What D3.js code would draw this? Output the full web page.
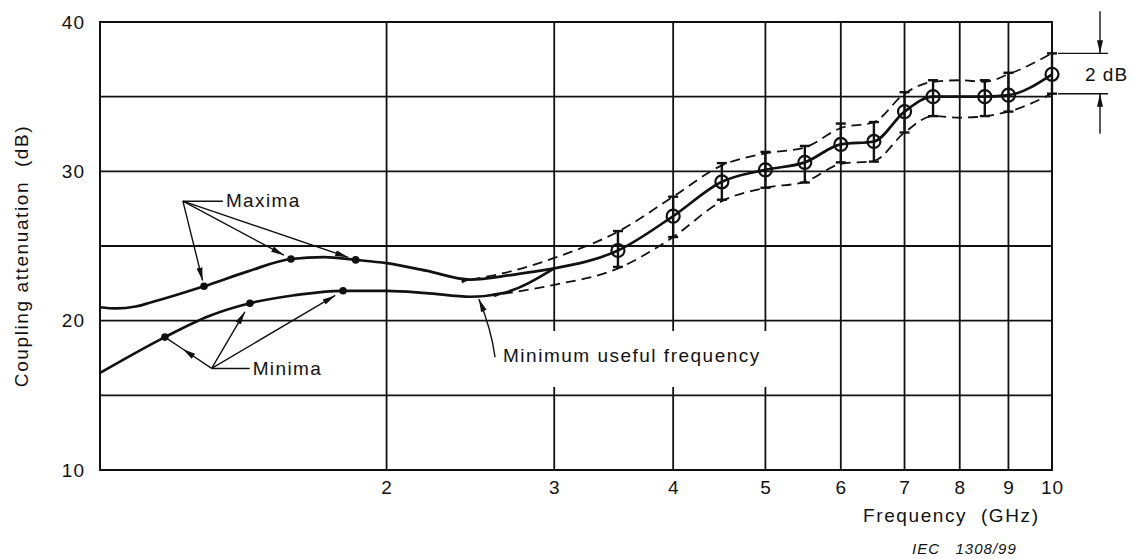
<html>
<head>
  <meta charset="UTF-8">
  <title>Coupling attenuation vs frequency</title>
  <script src="https://d3js.org/d3.v7.min.js"></script>
  <style>
    body { margin: 0; background: #fff; }
    text { font-family: "Liberation Sans", Arial, sans-serif; fill: #111; white-space: pre; }
  </style>
</head>
<body>
  <svg id="chart" width="1134" height="559"></svg>
  <script>
    /* Data (frequency in GHz, attenuation in dB) */
    const maximaCurve = [[1.0, 20.9], [1.04, 20.82], [1.09, 20.95], [1.128, 21.2], [1.2, 21.7], [1.286, 22.3], [1.43, 23.3],
      [1.587, 24.13], [1.72, 24.25], [1.856, 24.07], [2.0, 23.85], [2.2, 23.35], [2.45, 22.75], [2.7, 23.05], [3.0, 23.5]];
    const maximaDots = [[1.286, 22.3], [1.587, 24.13], [1.856, 24.07]];

    const minimaCurve = [[1.0, 16.5], [1.17, 18.9], [1.3, 20.3], [1.437, 21.17], [1.6, 21.7], [1.8, 22.0],
      [2.0, 22.0], [2.2, 21.85], [2.45, 21.6], [2.65, 21.85], [3.0, 23.5]];
    const minimaDots = [[1.17, 18.9], [1.437, 21.17], [1.8, 22.0]];

    const freqs = [3.5, 4, 4.5, 5, 5.5, 6, 6.5, 7, 7.5, 8.5, 9, 10];
    const meanValues = [24.7, 27.0, 29.3, 30.1, 30.6, 31.8, 32.0, 34.0, 35.0, 35.0, 35.1, 36.5];
    const barTop = [26.0, 28.3, 30.55, 31.3, 31.7, 33.2, 33.3, 35.3, 36.1, 36.1, 36.6, 37.9];
    const barBottom = [23.6, 25.6, 28.1, 28.9, 29.25, 30.6, 30.65, 32.6, 33.7, 33.7, 34.0, 35.2];

    const upperBand = [[2.45, 22.75], [2.7, 23.3], [3.0, 24.2], [3.5, 25.96], [4, 28.3], [4.5, 30.4], [5, 31.2],
      [5.5, 31.6], [6, 32.9], [6.5, 33.3], [7, 35.2], [7.5, 36.0], [8, 36.1], [8.5, 36.0], [9, 36.5], [10, 37.9]];
    const lowerBand = [[2.65, 21.8], [3.0, 22.4], [3.5, 23.5], [4, 25.6], [4.5, 28.0], [5, 28.9], [5.5, 29.3],
      [6, 30.5], [6.5, 30.7], [7, 32.6], [7.5, 33.7], [8, 33.6], [8.5, 33.7], [9, 34.0], [10, 35.2]];

    const xTicks = [2, 3, 4, 5, 6, 7, 8, 9, 10];
    const xGrid = [2, 3, 4, 5, 6, 7, 8, 9];
    const yTicks = [10, 20, 30, 40];
    const yGrid = [15, 20, 25, 30, 35];

    // annotation anchors in data units
    const maximaOrigin = [1.222, 28.0];
    const minimaOrigin = [1.31, 16.8];
    const usefulTail = [2.6, 17.55];
    const usefulHead = [2.5, 21.45];

    /* Layout */
    const svg = d3.select("#chart");
    const plotLeft = 100, plotRight = 1052, plotTop = 22, plotBottom = 470;
    const ink = "#111";
    const fontSize = 19;

    const x = d3.scaleLog().domain([1, 10]).range([plotLeft, plotRight]);
    const y = d3.scaleLinear().domain([10, 40]).range([plotBottom, plotTop]);
    const px = d => [x(d[0]), y(d[1])];

    const defs = svg.append("defs");
    defs.append("marker").attr("id", "arrow")
      .attr("markerUnits", "userSpaceOnUse").attr("markerWidth", 14).attr("markerHeight", 8)
      .attr("refX", 13).attr("refY", 4).attr("orient", "auto")
      .append("path").attr("d", "M0,1 L13,4 L0,7 Z").attr("fill", ink);
    defs.append("marker").attr("id", "arrowSmall")
      .attr("markerUnits", "userSpaceOnUse").attr("markerWidth", 10).attr("markerHeight", 6)
      .attr("refX", 0).attr("refY", 3).attr("orient", "auto-start-reverse")
      .append("path").attr("d", "M0,3 L9,0.8 L9,5.2 Z").attr("fill", ink);

    // gridlines
    const grid = svg.append("g").attr("stroke", ink).attr("stroke-width", 1.8);
    xGrid.forEach(f => {
      grid.append("line").attr("x1", x(f)).attr("x2", x(f)).attr("y1", plotTop).attr("y2", plotBottom);
    });
    yGrid.forEach(v => {
      grid.append("line").attr("x1", plotLeft).attr("x2", plotRight).attr("y1", y(v)).attr("y2", y(v));
    });
    svg.append("rect").attr("x", plotLeft).attr("y", plotTop)
      .attr("width", plotRight - plotLeft).attr("height", plotBottom - plotTop)
      .attr("fill", "none").attr("stroke", ink).attr("stroke-width", 2);

    // tick labels
    const xAxis = svg.append("g").attr("transform", `translate(0,${plotBottom})`)
      .call(d3.axisBottom(x).tickValues(xTicks).tickFormat(d3.format("d")).tickSize(0).tickPadding(11));
    const yAxis = svg.append("g").attr("transform", `translate(${plotLeft},0)`)
      .call(d3.axisLeft(y).tickValues(yTicks).tickSize(0).tickPadding(15));
    [xAxis, yAxis].forEach(a => {
      a.select(".domain").remove();
      a.selectAll("text").attr("font-size", fontSize).attr("font-family", "Liberation Sans, Arial, sans-serif")
        .attr("fill", ink).style("letter-spacing", "1px");
    });

    svg.append("text").attr("transform", "translate(28,256) rotate(-90)").attr("text-anchor", "middle")
      .attr("font-size", fontSize).style("letter-spacing", "1.6px").text("Coupling attenuation  (dB)");
    svg.append("text").attr("x", 863).attr("y", 522).attr("font-size", fontSize)
      .style("letter-spacing", "1.6px").text("Frequency  (GHz)");
    svg.append("text").attr("x", 912).attr("y", 554).attr("font-size", 15).attr("font-style", "italic")
      .style("letter-spacing", "1px").text("IEC   1308/99");

    // white knockout behind the frequency note
    svg.append("rect").attr("x", 498).attr("y", 331).attr("width", 276).attr("height", 56).attr("fill", "#fff");

    const smooth = d3.line().x(d => x(d[0])).y(d => y(d[1])).curve(d3.curveMonotoneX);

    // dashed tolerance band
    [upperBand, lowerBand].forEach(band => {
      svg.append("path").attr("d", smooth(band)).attr("fill", "none").attr("stroke", ink)
        .attr("stroke-width", 1.8).attr("stroke-dasharray", "10,6").attr("marker-start", "url(#arrowSmall)");
    });

    // maxima / minima curves
    [maximaCurve, minimaCurve].forEach(c => {
      svg.append("path").attr("d", smooth(c)).attr("fill", "none").attr("stroke", ink).attr("stroke-width", 2.7);
    });

    // mean curve from the merge point
    const meanPoints = [maximaCurve[maximaCurve.length - 1]].concat(freqs.map((f, i) => [f, meanValues[i]]));
    svg.append("path").attr("d", smooth(meanPoints)).attr("fill", "none").attr("stroke", ink).attr("stroke-width", 2.7);

    // error bars
    const bars = svg.append("g").attr("stroke", ink).attr("stroke-width", 2.4);
    freqs.forEach((f, i) => {
      bars.append("line").attr("x1", x(f)).attr("x2", x(f)).attr("y1", y(barTop[i])).attr("y2", y(barBottom[i]));
      [barTop[i], barBottom[i]].forEach(v => {
        bars.append("line").attr("x1", x(f) - 5).attr("x2", x(f) + 5).attr("y1", y(v)).attr("y2", y(v));
      });
    });
    svg.selectAll("circle.mean").data(freqs).join("circle").attr("class", "mean")
      .attr("cx", d => x(d)).attr("cy", (d, i) => y(meanValues[i])).attr("r", 6.5)
      .attr("fill", "none").attr("stroke", ink).attr("stroke-width", 2.2);

    // dots
    maximaDots.concat(minimaDots).forEach(d => {
      svg.append("circle").attr("cx", x(d[0])).attr("cy", y(d[1])).attr("r", 3.8).attr("fill", ink);
    });

    // leader arrows
    function arrowTo(from, to, gap, frac) {
      const a = px(from), b = px(to);
      const dx = b[0] - a[0], dy = b[1] - a[1], len = Math.hypot(dx, dy);
      const t = frac !== undefined ? frac : (len - gap) / len;
      const end = [a[0] + dx * t, a[1] + dy * t];
      svg.append("line").attr("x1", a[0]).attr("y1", a[1]).attr("x2", end[0]).attr("y2", end[1])
        .attr("stroke", ink).attr("stroke-width", 1.4).attr("marker-end", "url(#arrow)");
      if (frac !== undefined) {
        svg.append("line").attr("x1", end[0]).attr("y1", end[1]).attr("x2", b[0]).attr("y2", b[1])
          .attr("stroke", ink).attr("stroke-width", 1.4);
      }
    }
    arrowTo(maximaOrigin, maximaDots[0], 6);
    arrowTo(maximaOrigin, maximaDots[1], 8);
    arrowTo(maximaOrigin, maximaDots[2], 8);
    arrowTo(minimaOrigin, minimaDots[0], 0, 0.62);
    arrowTo(minimaOrigin, minimaDots[1], 10);
    arrowTo(minimaOrigin, minimaDots[2], 9);

    const mo = px(maximaOrigin), mi = px(minimaOrigin);
    svg.append("line").attr("x1", mo[0]).attr("y1", mo[1]).attr("x2", mo[0] + 40).attr("y2", mo[1])
      .attr("stroke", ink).attr("stroke-width", 1.4);
    svg.append("text").attr("x", mo[0] + 43).attr("y", mo[1] + 6).attr("font-size", fontSize)
      .style("letter-spacing", "1.4px").text("Maxima");
    svg.append("line").attr("x1", mi[0]).attr("y1", mi[1]).attr("x2", mi[0] + 38).attr("y2", mi[1])
      .attr("stroke", ink).attr("stroke-width", 1.4);
    svg.append("text").attr("x", mi[0] + 41).attr("y", mi[1] + 7).attr("font-size", fontSize)
      .style("letter-spacing", "1.4px").text("Minima");

    // minimum useful frequency note
    const ut = px(usefulTail), uh = px(usefulHead);
    svg.append("path").attr("d", `M${ut[0]},${ut[1]} Q${ut[0] - 4},${(ut[1] + uh[1]) / 2} ${uh[0]},${uh[1]}`)
      .attr("fill", "none").attr("stroke", ink).attr("stroke-width", 1.4).attr("marker-end", "url(#arrow)");
    svg.append("text").attr("x", ut[0] + 8).attr("y", ut[1] + 5).attr("font-size", fontSize)
      .style("letter-spacing", "1.5px").text("Minimum useful frequency");

    // 2 dB span marker at 10 GHz
    const yHi = y(upperBand[upperBand.length - 1][1]);
    const yLo = y(lowerBand[lowerBand.length - 1][1]);
    const sx = plotRight + 48;
    [yHi, yLo].forEach(v => {
      svg.append("line").attr("x1", plotRight + 6).attr("x2", plotRight + 56).attr("y1", v).attr("y2", v)
        .attr("stroke", ink).attr("stroke-width", 1.4);
    });
    svg.append("line").attr("x1", sx).attr("x2", sx).attr("y1", yHi - 42).attr("y2", yHi)
      .attr("stroke", ink).attr("stroke-width", 1.4).attr("marker-end", "url(#arrow)");
    svg.append("line").attr("x1", sx).attr("x2", sx).attr("y1", yLo + 40).attr("y2", yLo)
      .attr("stroke", ink).attr("stroke-width", 1.4).attr("marker-end", "url(#arrow)");
    svg.append("text").attr("x", plotRight + 33).attr("y", (yHi + yLo) / 2 + 7).attr("font-size", fontSize)
      .style("letter-spacing", "1px").text("2 dB");
  </script>
</body>
</html>
